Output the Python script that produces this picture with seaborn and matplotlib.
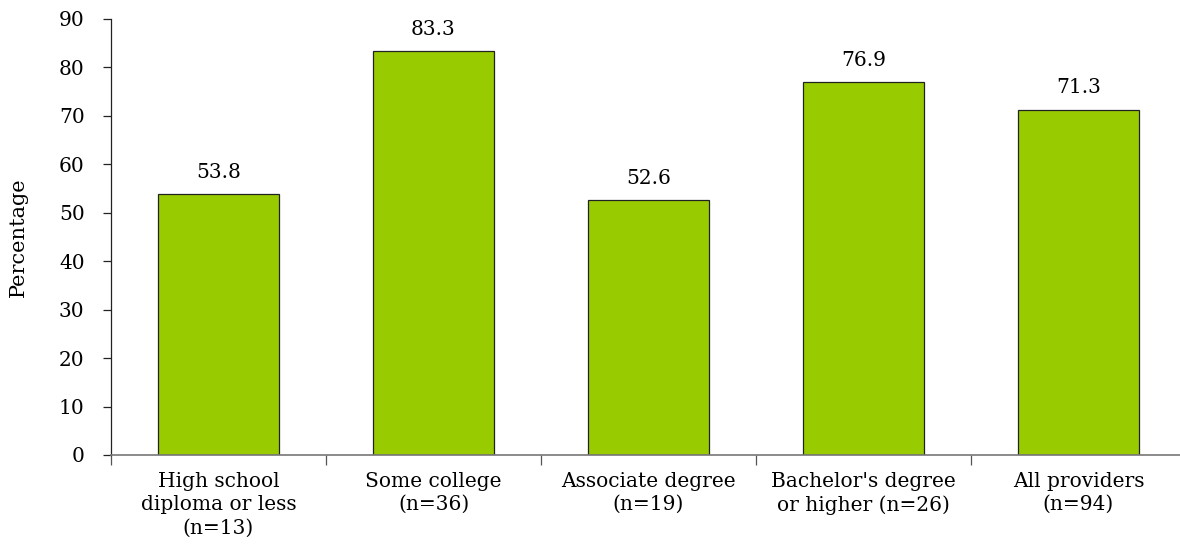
import matplotlib
matplotlib.use("Agg")
import matplotlib.pyplot as plt
import seaborn as sns
import pandas as pd

categories = ["High school\ndiploma or less\n(n=13)", "Some college\n(n=36)",
              "Associate degree\n(n=19)", "Bachelor's degree\nor higher (n=26)",
              "All providers\n(n=94)"]
values = [53.8, 83.3, 52.6, 76.9, 71.3]
value_labels = ["53.8", "83.3", "52.6", "76.9", "71.3"]
yticks = [0, 10, 20, 30, 40, 50, 60, 70, 80, 90]

sns.set_theme(style="white")
plt.rcParams['font.family'] = ['DejaVu Serif']
plt.rcParams['text.color'] = 'black'
plt.rcParams['xtick.color'] = 'black'
plt.rcParams['ytick.color'] = 'black'
plt.rcParams['axes.labelcolor'] = 'black'

df = pd.DataFrame({"cat": categories, "val": values})

fig = plt.figure(figsize=(11.8, 5.6), dpi=100)
ax = fig.add_axes([111/1180, (560-455)/560, 1075/1180, 436/560])
sns.barplot(data=df, x="cat", y="val", color="#99CC00", width=0.56,
            edgecolor="#222222", linewidth=0.9, saturation=1, ax=ax)

fs = 14.5
ax.set_xlim(-0.5, 4.5)
ax.set_ylim(0, 90)
ax.set_yticks(yticks)
ax.set_yticklabels([str(t) for t in yticks], fontsize=fs)
ax.tick_params(axis="y", length=6, width=0.9, color="#222222", pad=13, left=True, direction="out")

# category labels at centers, ticks at boundaries
ax.set_xticks([i - 0.5 for i in range(len(categories) + 1)])
ax.set_xticklabels([])
ax.set_xticks(range(len(categories)), minor=True)
ax.set_xticklabels(categories, minor=True, fontsize=fs, linespacing=1.3)
ax.tick_params(axis="x", which="major", length=7, width=0.9, color="#555555", direction="out", bottom=True)
ax.tick_params(axis="x", which="minor", length=0, pad=12)

ax.set_xlabel("")
ax.set_ylabel("Percentage", fontsize=15, labelpad=22)

for s in ["top", "right"]:
    ax.spines[s].set_visible(False)
ax.spines["left"].set_color("#222222")
ax.spines["left"].set_linewidth(0.9)
ax.spines["bottom"].set_color("#777777")
ax.spines["bottom"].set_linewidth(1.2)

for i, (v, lab) in enumerate(zip(values, value_labels)):
    ax.annotate(lab, (i, v), xytext=(0, 9), textcoords="offset points",
                ha="center", va="bottom", fontsize=fs)

fig.savefig("out.png", dpi=100)
